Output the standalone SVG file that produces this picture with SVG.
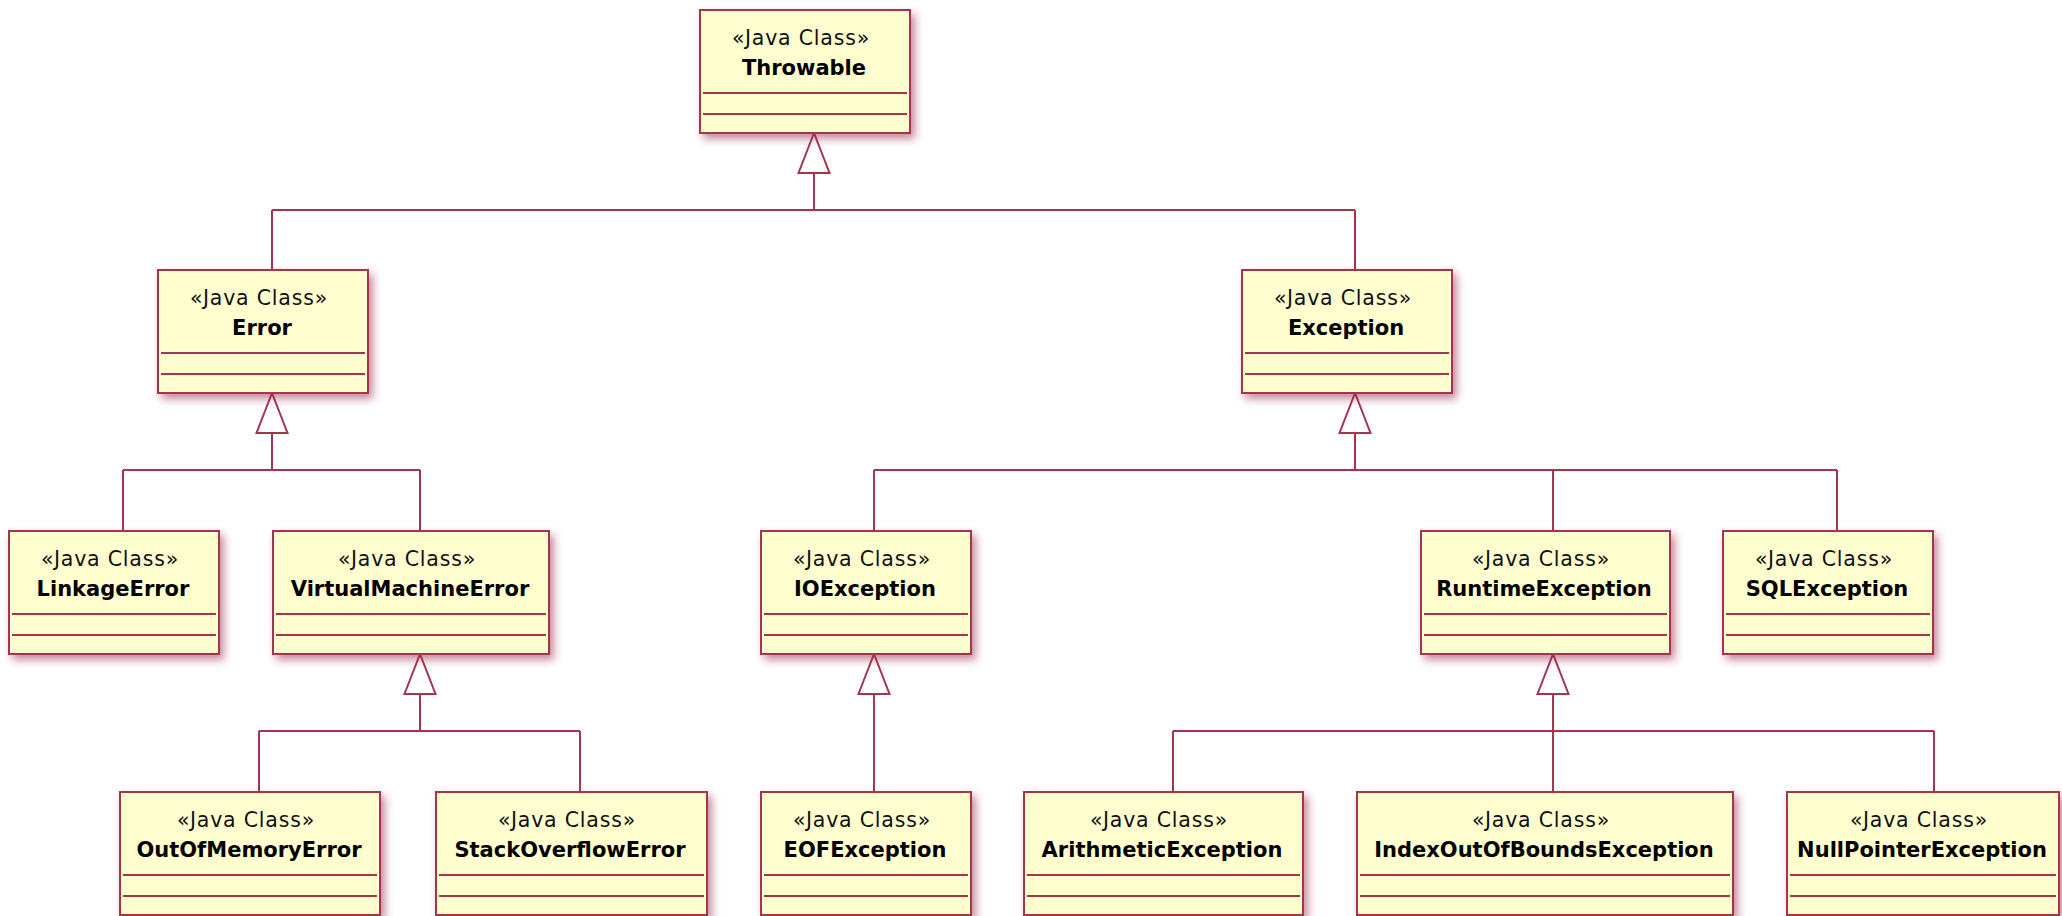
<svg xmlns="http://www.w3.org/2000/svg" width="2062" height="916" viewBox="0 0 2062 916">
<defs>
<filter id="sh" x="-10%" y="-10%" width="130%" height="140%">
<feDropShadow dx="4" dy="5" stdDeviation="4" flood-color="#9a2a48" flood-opacity="0.55"/>
</filter>
<style>
.box{fill:#FEFECE;stroke:#A3354F;stroke-width:2;filter:url(#sh)}
.div{stroke:#A3354F;stroke-width:1.8}
.st{font-family:"DejaVu Sans",Verdana,sans-serif;font-size:20.5px;letter-spacing:0.8px;fill:#111;text-anchor:middle}
.nm{font-family:"DejaVu Sans",Verdana,sans-serif;font-size:21px;font-weight:bold;fill:#000;text-anchor:middle}
.ln{fill:none;stroke:#A3354F;stroke-width:2}
.ar{fill:#fff;stroke:#A3354F;stroke-width:2;stroke-linejoin:miter}
</style>
</defs>
<rect width="2062" height="916" fill="#fff"/>

<g id="connectors">
<path class="ln" d="M814 173V210M272 210H1355M272 210V270M1355 210V270"/>
<polygon class="ar" points="814,133 798.5,173 829.5,173"/>
<path class="ln" d="M272 433V470M123 470H420M123 470V531M420 470V531"/>
<polygon class="ar" points="272,393 256.5,433 287.5,433"/>
<path class="ln" d="M1355 433V470M874 470H1837M874 470V531M1553 470V531M1837 470V531"/>
<polygon class="ar" points="1355,393 1339.5,433 1370.5,433"/>
<path class="ln" d="M420 694V731M259 731H580M259 731V792M580 731V792"/>
<polygon class="ar" points="420,654 404.5,694 435.5,694"/>
<path class="ln" d="M874 694V792"/>
<polygon class="ar" points="874,654 858.5,694 889.5,694"/>
<path class="ln" d="M1553 694V731M1173 731H1934M1173 731V792M1553 731V792M1934 731V792"/>
<polygon class="ar" points="1553,654 1537.5,694 1568.5,694"/>
</g>

<g id="Throwable">
<rect class="box" x="700" y="10" width="210" height="123"/>
<line class="div" x1="703" y1="93" x2="907" y2="93"/><line class="div" x1="703" y1="114" x2="907" y2="114"/>
<text class="st" x="801" y="45">«Java Class»</text>
<text class="nm" x="804" y="75">Throwable</text>
</g>

<g id="Error">
<rect class="box" x="158" y="270" width="210" height="123"/>
<line class="div" x1="161" y1="353" x2="365" y2="353"/><line class="div" x1="161" y1="374" x2="365" y2="374"/>
<text class="st" x="259" y="305">«Java Class»</text>
<text class="nm" x="262" y="335">Error</text>
</g>

<g id="Exception">
<rect class="box" x="1242" y="270" width="210" height="123"/>
<line class="div" x1="1245" y1="353" x2="1449" y2="353"/><line class="div" x1="1245" y1="374" x2="1449" y2="374"/>
<text class="st" x="1343" y="305">«Java Class»</text>
<text class="nm" x="1346" y="335">Exception</text>
</g>

<g id="LinkageError">
<rect class="box" x="9" y="531" width="210" height="123"/>
<line class="div" x1="12" y1="614" x2="216" y2="614"/><line class="div" x1="12" y1="635" x2="216" y2="635"/>
<text class="st" x="110" y="566">«Java Class»</text>
<text class="nm" x="113" y="596">LinkageError</text>
</g>

<g id="VirtualMachineError">
<rect class="box" x="273" y="531" width="276" height="123"/>
<line class="div" x1="276" y1="614" x2="546" y2="614"/><line class="div" x1="276" y1="635" x2="546" y2="635"/>
<text class="st" x="407" y="566">«Java Class»</text>
<text class="nm" x="410" y="596">VirtualMachineError</text>
</g>

<g id="IOException">
<rect class="box" x="761" y="531" width="210" height="123"/>
<line class="div" x1="764" y1="614" x2="968" y2="614"/><line class="div" x1="764" y1="635" x2="968" y2="635"/>
<text class="st" x="862" y="566">«Java Class»</text>
<text class="nm" x="865" y="596">IOException</text>
</g>

<g id="RuntimeException">
<rect class="box" x="1421" y="531" width="249" height="123"/>
<line class="div" x1="1424" y1="614" x2="1667" y2="614"/><line class="div" x1="1424" y1="635" x2="1667" y2="635"/>
<text class="st" x="1541" y="566">«Java Class»</text>
<text class="nm" x="1544" y="596">RuntimeException</text>
</g>

<g id="SQLException">
<rect class="box" x="1723" y="531" width="210" height="123"/>
<line class="div" x1="1726" y1="614" x2="1930" y2="614"/><line class="div" x1="1726" y1="635" x2="1930" y2="635"/>
<text class="st" x="1824" y="566">«Java Class»</text>
<text class="nm" x="1827" y="596">SQLException</text>
</g>

<g id="OutOfMemoryError">
<rect class="box" x="120" y="792" width="260" height="123"/>
<line class="div" x1="123" y1="875" x2="377" y2="875"/><line class="div" x1="123" y1="896" x2="377" y2="896"/>
<text class="st" x="246" y="827">«Java Class»</text>
<text class="nm" x="249" y="857">OutOfMemoryError</text>
</g>

<g id="StackOverflowError">
<rect class="box" x="436" y="792" width="271" height="123"/>
<line class="div" x1="439" y1="875" x2="704" y2="875"/><line class="div" x1="439" y1="896" x2="704" y2="896"/>
<text class="st" x="567" y="827">«Java Class»</text>
<text class="nm" x="570" y="857">StackOverflowError</text>
</g>

<g id="EOFException">
<rect class="box" x="761" y="792" width="210" height="123"/>
<line class="div" x1="764" y1="875" x2="968" y2="875"/><line class="div" x1="764" y1="896" x2="968" y2="896"/>
<text class="st" x="862" y="827">«Java Class»</text>
<text class="nm" x="865" y="857">EOFException</text>
</g>

<g id="ArithmeticException">
<rect class="box" x="1024" y="792" width="279" height="123"/>
<line class="div" x1="1027" y1="875" x2="1300" y2="875"/><line class="div" x1="1027" y1="896" x2="1300" y2="896"/>
<text class="st" x="1159" y="827">«Java Class»</text>
<text class="nm" x="1162" y="857">ArithmeticException</text>
</g>

<g id="IndexOutOfBoundsException">
<rect class="box" x="1357" y="792" width="376" height="123"/>
<line class="div" x1="1360" y1="875" x2="1730" y2="875"/><line class="div" x1="1360" y1="896" x2="1730" y2="896"/>
<text class="st" x="1541" y="827">«Java Class»</text>
<text class="nm" x="1544" y="857">IndexOutOfBoundsException</text>
</g>

<g id="NullPointerException">
<rect class="box" x="1787" y="792" width="272" height="123"/>
<line class="div" x1="1790" y1="875" x2="2056" y2="875"/><line class="div" x1="1790" y1="896" x2="2056" y2="896"/>
<text class="st" x="1919" y="827">«Java Class»</text>
<text class="nm" x="1922" y="857">NullPointerException</text>
</g>
</svg>
